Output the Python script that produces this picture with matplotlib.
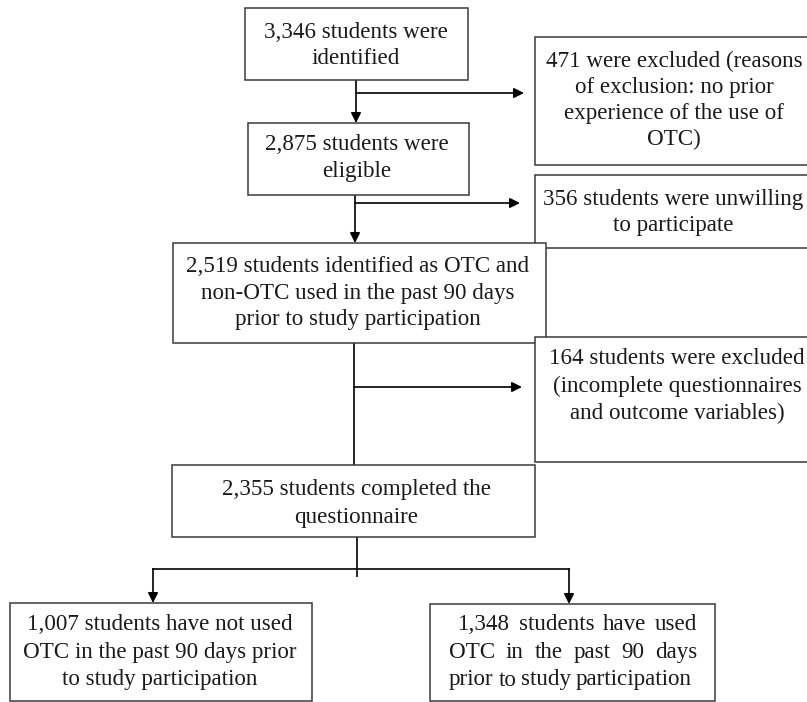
import matplotlib
matplotlib.use("Agg")
import matplotlib.pyplot as plt
from matplotlib.patches import Rectangle

# ---- data: text of each flowchart stage ----
identified = ["3,346 students were", "identified"]
eligible = ["2,875 students were", "eligible"]
classified = ["2,519 students identified as OTC and",
              "non-OTC used in the past 90 days",
              "prior to study participation"]
completed = ["2,355 students completed the", "questionnaire"]
excluded_1 = ["471 were excluded (reasons", "of exclusion: no prior",
              "experience of the use of", "OTC)"]
unwilling = ["356 students were unwilling", "to participate"]
excluded_2 = ["164 students were excluded", "(incomplete questionnaires",
              "and outcome variables)"]
non_users = ["1,007 students have not used",
             "OTC in the past 90 days prior",
             "to study participation"]
users = ["1,348 students have used",
         "OTC in the past 90 days",
         "prior to study participation"]

W, H = 807, 702
fig = plt.figure(figsize=(W / 100, H / 100), dpi=100)
ax = fig.add_axes([0, 0, 1, 1])
ax.set_xlim(0, W)
ax.set_ylim(H, 0)
ax.axis("off")

FONT = dict(family="Liberation Serif", fontsize=16.6, color="#1a1a1a")
EDGE = "#3a3a3a"


def box(x0, y0, x1, y1, z=2):
    ax.add_patch(Rectangle((x0, y0), x1 - x0, y1 - y0, facecolor="white",
                           edgecolor=EDGE, lw=1.1, zorder=z))


def lines(cx, y_first, step, texts, z=3):
    for i, t in enumerate(texts):
        ax.text(cx, y_first + i * step + 7.5, t, ha="center", va="baseline",
                zorder=z, **FONT)


def justified(x_left, x_right, y_first, step, texts, z=3):
    fig.canvas.draw()
    r = fig.canvas.get_renderer()
    for i, t in enumerate(texts):
        words = t.split()
        objs = [ax.text(0, 0, w, ha="left", va="baseline", zorder=z, **FONT)
                for w in words]
        widths = [o.get_window_extent(renderer=r).width for o in objs]
        total = sum(widths)
        xl, xr = x_left[i], x_right[i]
        gap = (xr - xl - total) / max(len(words) - 1, 1)
        x = xl
        y = y_first + i * step + 7.5
        for o, w in zip(objs, widths):
            o.set_position((x, y))
            x += w + gap


def line(x0, y0, x1, y1):
    ax.plot([x0, x1], [y0, y1], color="black", lw=1.2, zorder=1,
            solid_capstyle="butt")


def arrow(x0, y0, x1, y1):
    ax.annotate("", xy=(x1, y1), xytext=(x0, y0), zorder=1,
                arrowprops=dict(arrowstyle="-|>", color="black", lw=1.2,
                                mutation_scale=15, shrinkA=0, shrinkB=0))


# connectors
arrow(356, 80, 356, 123)
arrow(357, 93, 524, 93)
arrow(355, 195, 355, 243)
arrow(355, 203, 520, 203)
line(354, 343, 354, 465)
arrow(354, 387, 522, 387)
line(357, 537, 357, 577)
line(152, 569, 570, 569)
arrow(153, 569, 153, 603)
arrow(569, 569, 569, 604)

# boxes (later ones drawn on top)
box(245, 8, 468, 80)
lines(356, 30, 27, identified)

box(248, 123, 469, 195)
lines(357, 143, 27, eligible)

box(535, 37, 812, 165)
lines(674, 60, 25.7, excluded_1)

box(535, 175, 812, 248, z=2)
lines(673, 197, 26, unwilling)

box(173, 243, 546, 343, z=4)
lines(358, 265, 26.5, classified, z=5)

box(535, 337, 812, 462, z=6)
lines(677, 357, 27.5, excluded_2, z=7)

box(172, 465, 535, 537)
lines(356, 488, 27, completed)

box(10, 603, 312, 701)
lines(160, 623, 27.5, non_users)

box(430, 604, 715, 701)
justified([458, 449, 449], [697, 697, 692], 623, 27.5, users)

fig.savefig("out.png", dpi=100, facecolor="white")
